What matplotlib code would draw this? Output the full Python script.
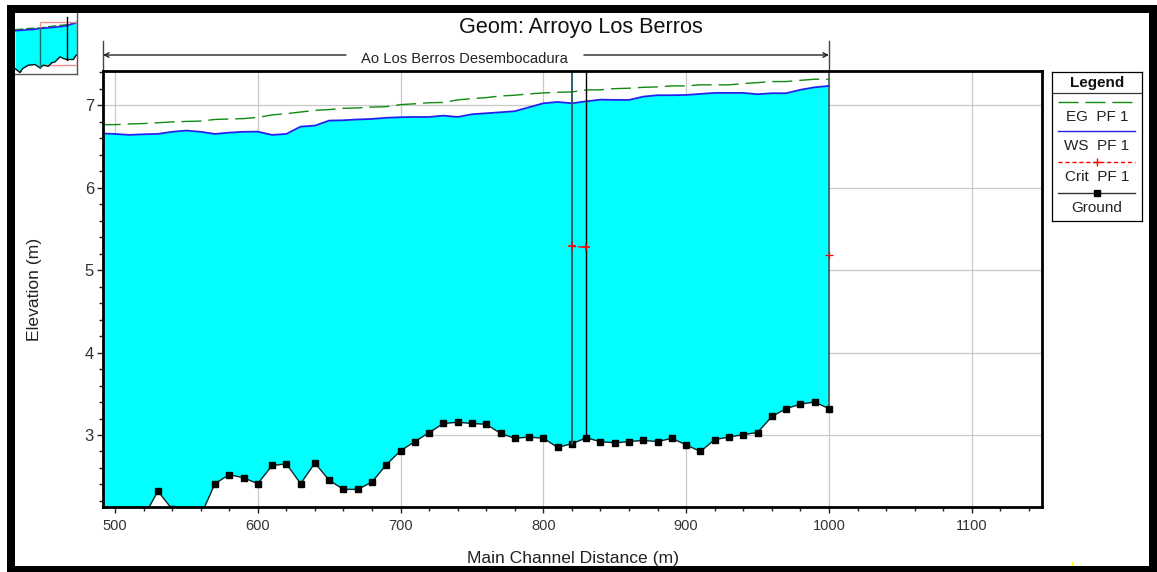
import matplotlib
matplotlib.use("Agg")
import matplotlib.pyplot as plt
import numpy as np
from matplotlib.patches import Rectangle
from matplotlib.ticker import MultipleLocator

plt.rcParams['font.family'] = ['Liberation Sans', 'DejaVu Sans']

W, H = 1157, 572

title = "Geom: Arroyo Los Berros"
reach_name = "Ao Los Berros Desembocadura"
x_label = "Main Channel Distance (m)"
y_label = "Elevation (m)"

dist = [490, 500, 510, 520, 530, 540, 550, 560, 570, 580, 590, 600, 610, 620, 630, 640, 650, 660,
        670, 680, 690, 700, 710, 720, 730, 740, 750, 760, 770, 780, 790, 800, 810, 820, 830, 840,
        850, 860, 870, 880, 890, 900, 910, 920, 930, 940, 950, 960, 970, 980, 990, 1000]
ground = [1.95, 1.95, 1.95, 2.0, 2.32, 2.10, 1.95, 2.02, 2.41, 2.52, 2.48, 2.41, 2.63, 2.65, 2.41, 2.66, 2.45, 2.34,
          2.34, 2.43, 2.64, 2.81, 2.92, 3.03, 3.14, 3.155, 3.14, 3.13, 3.02, 2.96, 2.975, 2.96, 2.85, 2.895, 2.965, 2.92,
          2.905, 2.92, 2.935, 2.92, 2.96, 2.88, 2.80, 2.945, 2.975, 3.005, 3.03, 3.225, 3.32, 3.375, 3.40, 3.32]
ws = [6.66, 6.654, 6.642, 6.65, 6.654, 6.68, 6.695, 6.68, 6.654, 6.67, 6.68, 6.682, 6.642, 6.654, 6.743, 6.755, 6.816, 6.82,
      6.83, 6.836, 6.85, 6.857, 6.86, 6.86, 6.876, 6.86, 6.893, 6.905, 6.917, 6.93, 6.978, 7.026, 7.042, 7.026, 7.05, 7.07,
      7.067, 7.067, 7.107, 7.124, 7.124, 7.127, 7.14, 7.152, 7.152, 7.152, 7.136, 7.148, 7.148, 7.19, 7.22, 7.237]
eg = [6.767, 6.767, 6.775, 6.78, 6.79, 6.80, 6.806, 6.81, 6.83, 6.835, 6.84, 6.855, 6.885, 6.90, 6.92, 6.94, 6.95, 6.965,
      6.97, 6.98, 6.985, 7.01, 7.02, 7.033, 7.036, 7.067, 7.083, 7.095, 7.115, 7.124, 7.14, 7.152, 7.16, 7.164, 7.188, 7.19,
      7.204, 7.209, 7.22, 7.225, 7.237, 7.237, 7.25, 7.25, 7.25, 7.265, 7.277, 7.29, 7.29, 7.305, 7.318, 7.318]
crit_dist = [820, 830]
crit = [5.29, 5.28]
crit_end_dist = [1000]
crit_end = [5.186]
bridge_dist = [820, 830]
x_ticks = [500, 600, 700, 800, 900, 1000, 1100]
y_ticks = [3, 4, 5, 6, 7]

# overview thumbnail (whole river)
over_ground_d = [0, 90, 138, 240, 360, 450, 510, 600, 660, 720, 810, 870, 930, 1050, 1098, 1110]
over_ground = [1.72, 1.22, 1.72, 2.13, 2.21, 1.80, 2.13, 2.00, 2.42, 2.54, 3.16, 2.96, 2.83, 2.83, 3.37, 3.37]
over_ws_d = [0, 330, 450, 690, 930, 1098, 1110]
over_ws = [6.39, 6.55, 6.68, 6.80, 7.00, 7.38, 7.40]
over_eg_d = [0, 270, 450, 690, 930, 1098, 1110]
over_eg = [6.51, 6.68, 6.72, 6.97, 7.13, 7.42, 7.44]


def fx(px):
    return px / W


def fy(py):
    return 1 - py / H


def box(x0, y0, x1, y1):
    return [fx(x0), fy(y1), (x1 - x0) / W, (y1 - y0) / H]


fig = plt.figure(figsize=(W / 100, H / 100), dpi=100, facecolor='white')

# outer black frame
for x0, y0, x1, y1 in [(7, 5, 1157, 12.5), (7, 566, 1157, 572), (7, 5, 14.5, 572), (1149, 5, 1157, 572)]:
    fig.add_artist(Rectangle((fx(x0), fy(y1)), (x1 - x0) / W, (y1 - y0) / H,
                             transform=fig.transFigure, fc='black', ec='none'))
fig.add_artist(Rectangle((fx(1071.5), fy(566)), 1.5 / W, 4.5 / H, transform=fig.transFigure, fc='#ffff00', ec='none'))

# main axes
ax = fig.add_axes(box(103, 71, 1042, 507))
ax.set_xlim(491.6, 1149.2)
ax.set_ylim(2.126, 7.418)
ax.set_axisbelow(True)
ax.grid(True, which='major', color='#c8c8c8', lw=0.9)
ax.set_xticks(x_ticks)
ax.set_yticks(y_ticks)
ax.xaxis.set_minor_locator(MultipleLocator(20))
ax.yaxis.set_minor_locator(MultipleLocator(0.2))
ax.tick_params(which='major', length=4, width=1, color='#222222', labelcolor='#333333')
ax.tick_params(which='minor', length=3, width=1, color='#222222')
ax.tick_params(axis='x', which='major', labelsize=10.5, pad=5)
ax.tick_params(axis='y', which='major', labelsize=12, pad=2.5)
for s in ax.spines.values():
    s.set_linewidth(2)
    s.set_color('black')
    s.set_zorder(10)

ax.fill_between(dist, ws, ground, color='#00ffff', lw=0, zorder=2)
ax.plot(dist, eg, color='#118a11', lw=1.0, dashes=(14.4, 5), zorder=4)
ax.plot(dist, ws, color='#2222ee', lw=1.3, zorder=5)
ax.plot(dist, ground, color='#222222', lw=1.0, marker='s', ms=4.6, mfc='black', mec='black', zorder=6)
for i, d in enumerate(bridge_dist):
    ax.plot([d, d], [ground[dist.index(d)], 7.418], color='#1c5a5a' if i == 0 else 'black',
            lw=1.3 if i == 0 else 1.0, zorder=6)
ax.plot([1000, 1000], [ground[-1], 7.418], color='#445a5a', lw=1.2, zorder=3)
ax.plot(crit_dist, crit, color='red', lw=1.0, ls=(0, (3, 1.5)), marker='+', ms=6, mew=1.2, zorder=7)
ax.plot(crit_end_dist, crit_end, color='red', lw=1.0, marker='+', ms=6, mew=0.9, zorder=7)

ax.set_xlabel(x_label, fontsize=12.6, color='#222222')
ax.set_ylabel(y_label, fontsize=12.6, color='#222222')
ax.xaxis.set_label_coords((573 - 103) / 939, -(559 - 507) / 436, transform=ax.transAxes)
ax.yaxis.set_label_coords((34 - 103) / 939, 1 - (289 - 71) / 436, transform=ax.transAxes)
ax.xaxis.label.set_va('center')
ax.yaxis.label.set_va('center')

fig.text(fx(581), fy(28), title, fontsize=15.6, ha='center', va='center', color='#111111')

# reach marker above the axes
trans = ax.get_xaxis_transform()
ytop = 1 + (71 - 41) / 436
yarr = 1 + (71 - 55) / 436
for d in (491.6, 1000):
    ax.plot([d, d], [1, ytop], transform=trans, color='#444444', lw=1.0, clip_on=False, zorder=3)
ax.annotate('', xy=(491.6, yarr), xytext=(661.8, yarr), xycoords=trans, textcoords=trans,
            arrowprops=dict(arrowstyle='->', color='#222222', lw=1.0, shrinkA=0, shrinkB=0, mutation_scale=8))
ax.annotate('', xy=(1000, yarr), xytext=(828.4, yarr), xycoords=trans, textcoords=trans,
            arrowprops=dict(arrowstyle='->', color='#222222', lw=1.0, shrinkA=0, shrinkB=0, mutation_scale=8))
fig.text(fx(464), fy(59), reach_name, fontsize=10.6, ha='center', va='center', color='#222222')

# legend panel
lg = fig.add_axes(box(1052, 72, 1141.5, 221))
lg.set_xlim(1052, 1141.5)
lg.set_ylim(221, 72)
lg.set_xticks([])
lg.set_yticks([])
for s in lg.spines.values():
    s.set_linewidth(0.9)
lg.plot([1052, 1141.5], [93, 93], color='#333333', lw=0.9)
lg.text(1097, 82.5, "Legend", fontsize=11, fontweight='bold', ha='center', va='center', color='#111111')
lg.plot([1058, 1135], [102, 102], color='#118a11', lw=1.0, dashes=(14.4, 5))
lg.text(1097, 117, "EG  PF 1", fontsize=11, ha='center', va='center', color='#222222')
lg.plot([1058, 1135], [131.3, 131.3], color='#2222ee', lw=1.0)
lg.text(1097, 146, "WS  PF 1", fontsize=11, ha='center', va='center', color='#222222')
lg.plot([1058, 1135], [162, 162], color='red', lw=1.0, ls=(0, (3, 2)))
lg.plot([1097], [162], color='red', marker='+', ms=6, mew=1.0)
lg.text(1097, 177, "Crit  PF 1", fontsize=11, ha='center', va='center', color='#222222')
lg.plot([1058, 1135], [192.7, 192.7], color='#333333', lw=1.0)
lg.plot([1097], [192.7], color='black', marker='s', ms=4.2)
lg.text(1097, 207.5, "Ground", fontsize=11, ha='center', va='center', color='#222222')

# overview thumbnail
ov = fig.add_axes(box(15, 12.7, 76.7, 73.5))
ov.set_xlim(0, 1110)
ov.set_ylim(1.1, 8.62)
ov.set_xticks([])
ov.set_yticks([])
for name, s in ov.spines.items():
    s.set_visible(name in ('right', 'bottom'))
    s.set_color('#555555')
    s.set_linewidth(1.0)
top_d = sorted(set(over_ws_d) | set(over_ground_d))
ov.fill_between(top_d, np.interp(top_d, over_ws_d, over_ws), np.interp(top_d, over_ground_d, over_ground),
                color='#00ffff', lw=0, zorder=2)
ov.plot(over_eg_d, over_eg, color='#118a11', lw=1.0, dashes=(6, 2), zorder=3)
ov.plot(over_ws_d, over_ws, color='#2222ee', lw=1.2, zorder=4)
ov.plot(over_ground_d, over_ground, color='#111111', lw=1.0, zorder=5)
ov.plot([450, 450], [1.8, 6.68], color='#1c6a6a', lw=1.0, zorder=6)
ov.plot([930, 930], [2.83, 8.13], color='black', lw=1.0, zorder=6)
ov.add_patch(Rectangle((450, 2.13), 660, 5.29, fill=False, ec='#f09090', lw=1.0, zorder=4))

fig.savefig('out.png', dpi=100, facecolor='white')
